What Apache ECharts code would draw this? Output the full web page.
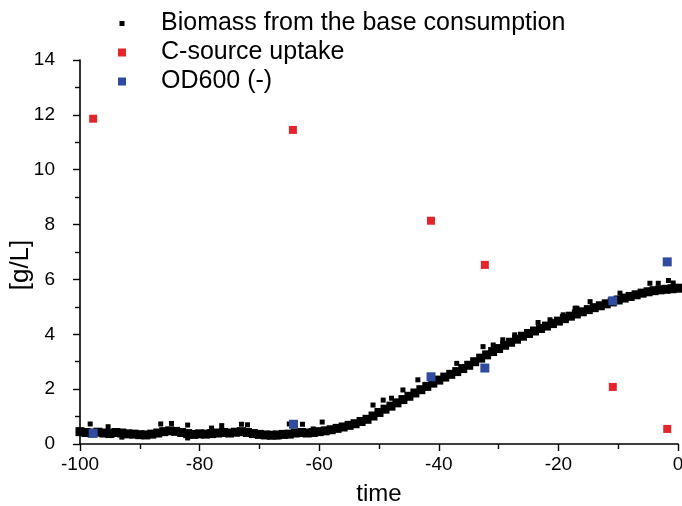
<!DOCTYPE html>
<html>
<head>
  <meta charset="utf-8">
  <title>Biomass</title>
  <script src="https://cdn.jsdelivr.net/npm/echarts@6/dist/echarts.min.js"></script>
</head>
<body style="margin:0">
<div id="main" style="width:682px;height:506px;"></div>
<script type="text/javascript">
  // biomass band, [time, g/L]
  var biomass = [
    [-100,0.45],[-99,0.42],[-98,0.40],[-97,0.43],[-96,0.40],[-95,0.38],[-94,0.42],[-93,0.40],[-92,0.37],[-91,0.36],
    [-90,0.34],[-89,0.33],[-88,0.36],[-87,0.40],[-86,0.45],[-85,0.48],[-84,0.46],[-83,0.42],[-82,0.38],[-81,0.35],
    [-80,0.37],[-79,0.36],[-78,0.38],[-77,0.40],[-76,0.42],[-75,0.40],[-74,0.43],[-73,0.45],[-72,0.42],[-71,0.38],
    [-70,0.35],[-69,0.33],[-68,0.32],[-67,0.33],[-66,0.35],[-65,0.36],[-64,0.40],[-63,0.42],[-62,0.40],[-61,0.42],
    [-60,0.45],[-59,0.48],[-58,0.52],[-57,0.57],[-56,0.62],[-55,0.68],[-54,0.74],[-53,0.82],[-52,0.90],[-51,1.02],
    [-50,1.15],[-49,1.27],[-48,1.38],[-47,1.50],[-46,1.62],[-45,1.74],[-44,1.86],[-43,1.98],[-42,2.10],[-41,2.22],
    [-40,2.33],[-39,2.44],[-38,2.54],[-37,2.64],[-36,2.75],[-35,2.87],[-34,3.00],[-33,3.13],[-32,3.25],[-31,3.37],
    [-30,3.48],[-29,3.60],[-28,3.71],[-27,3.82],[-26,3.93],[-25,4.03],[-24,4.12],[-23,4.21],[-22,4.30],[-21,4.39],
    [-20,4.48],[-19,4.57],[-18,4.66],[-17,4.74],[-16,4.82],[-15,4.90],[-14,4.97],[-13,5.04],[-12,5.11],[-11,5.18],
    [-10,5.25],[-9,5.32],[-8,5.38],[-7,5.44],[-6,5.50],[-5,5.55],[-4,5.59],[-3,5.62],[-2,5.64],[-1,5.66],[0,5.68]
  ];
  // scattered single readings off the band
  var biomassOutliers = [
    [-98.3,0.73],[-95.3,0.63],[-93,0.25],[-86.5,0.73],[-84.7,0.75],[-82,0.69],[-82,0.22],[-78,0.58],[-76.3,0.67],
    [-73,0.72],[-72,0.70],[-67,0.26],[-65,0.73],[-62.8,0.72],[-61,0.55],[-59.5,0.80],
    [-51,1.42],[-49.3,1.60],[-47.9,1.67],[-46,1.97],[-43.5,2.34],[-37,2.94],
    [-32.6,3.55],[-30.9,3.61],[-29.3,3.80],[-27.3,3.98],[-23.4,4.43],[-21.4,4.53],[-19.2,4.71],[-17.2,4.95],
    [-16.9,4.95],[-14.7,5.19],[-9.7,5.50],[-4.7,5.86],[-3.3,5.86],[-1.6,5.96],[-0.8,5.87]
  ];
  var cSourceUptake = [[-97.8,11.86],[-64.4,11.45],[-41.3,8.14],[-32.3,6.53],[-10.9,2.08],[-1.8,0.55]];
  var od600 = [[-97.8,0.39],[-64.3,0.72],[-41.3,2.45],[-32.3,2.77],[-10.9,5.22],[-1.8,6.64]];

  var nameBiomass = 'Biomass from the base consumption';
  var nameCSource = 'C-source uptake';
  var nameOD = 'OD600 (-)';

  var myChart = echarts.init(document.getElementById('main'));
  var font = 'Liberation Sans, Arial, sans-serif';

  option = {
    animation: false,
    backgroundColor: '#fff',
    textStyle: { fontFamily: font },
    legend: {
      orient: 'vertical',
      left: 113,
      top: 6,
      itemWidth: 8,
      itemHeight: 8,
      itemGap: 4,
      data: [
        // smaller black marker inside the same 8px box
        { name: nameBiomass, icon: 'path://M0 0L0.01 0ZM1.5 1.5H6.5V6.5H1.5ZM8 8L7.99 8Z' },
        nameCSource,
        nameOD
      ],
      textStyle: { fontSize: 25, lineHeight: 24, color: '#000', fontFamily: font, padding: [0, 0, 0, 30] }
    },
    grid: { left: 80, right: 4, top: 60, bottom: 62, outerBoundsMode: 'none' },
    xAxis: {
      type: 'value',
      min: -100, max: 0, interval: 20,
      name: 'time',
      nameLocation: 'middle',
      nameMoveOverlap: false,
      nameGap: 38,
      nameTextStyle: { fontSize: 24, color: '#000', fontFamily: font },
      axisLine: { onZero: false, lineStyle: { color: '#000', width: 1.6 } },
      axisTick: { length: 7, lineStyle: { color: '#000', width: 1.4 } },
      minorTick: { show: true, splitNumber: 2, length: 5, lineStyle: { color: '#000', width: 1.4 } },
      axisLabel: { fontSize: 19, color: '#000', margin: 11, fontFamily: font },
      splitLine: { show: false }
    },
    yAxis: {
      type: 'value',
      min: 0, max: 14, interval: 2,
      name: '[g/L]',
      nameLocation: 'middle',
      nameMoveOverlap: false,
      nameGap: 46,
      nameTextStyle: { fontSize: 26, color: '#000', fontFamily: font, padding: [0, 26, 0, 0] },
      axisLine: { onZero: false, lineStyle: { color: '#000', width: 1.6 } },
      axisTick: { length: 7, lineStyle: { color: '#000', width: 1.4 } },
      minorTick: { show: true, splitNumber: 2, length: 5, lineStyle: { color: '#000', width: 1.4 } },
      axisLabel: { fontSize: 19, color: '#000', margin: 25, fontFamily: font },
      splitLine: { show: false }
    },
    series: [
      {
        name: nameBiomass, type: 'scatter', symbol: 'rect', symbolSize: 9,
        itemStyle: { color: '#000', opacity: 1 }, data: biomass
      },
      {
        name: nameBiomass, type: 'scatter', symbol: 'rect', symbolSize: 5,
        itemStyle: { color: '#000', opacity: 1 }, data: biomassOutliers
      },
      {
        name: nameCSource, type: 'scatter', symbol: 'rect', symbolSize: 8,
        itemStyle: { color: '#e3262b', opacity: 1 }, data: cSourceUptake
      },
      {
        name: nameOD, type: 'scatter', symbol: 'rect', symbolSize: 9,
        itemStyle: { color: '#2f4c9e', opacity: 1 }, data: od600
      }
    ]
  };

  myChart.setOption(option);
</script>
</body>
</html>
